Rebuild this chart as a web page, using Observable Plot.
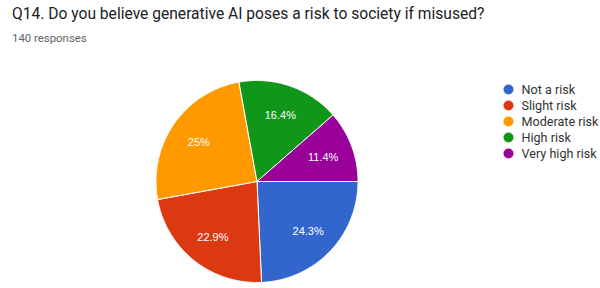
<!DOCTYPE html>
<html><head><meta charset="utf-8">
<script src="https://cdn.jsdelivr.net/npm/d3@7"></script>
<script src="https://cdn.jsdelivr.net/npm/@observablehq/plot@0.6"></script>
<style>
html,body{margin:0;padding:0;background:#fff;width:600px;height:288px;overflow:hidden;}
#wrap{position:relative;width:600px;height:288px;}
#title{position:absolute;left:12px;top:5px;font:15.6px Roboto, sans-serif;line-height:18px;color:#202124;white-space:nowrap;}
#sub{position:absolute;left:12px;top:32px;font:11.4px Roboto, sans-serif;line-height:13px;color:#5f6368;white-space:nowrap;}
#chart{position:absolute;left:0;top:45px;}
#legend{position:absolute;left:500px;top:0;}
</style></head><body>
<div id="wrap">
  <div id="title">Q14. Do you believe generative AI poses a risk to society if misused?</div>
  <div id="sub">140 responses</div>
  <div id="chart"></div>
  <div id="legend"></div>
</div>
<script>
const categories = ["Not a risk", "Slight risk", "Moderate risk", "High risk", "Very high risk"];
const counts = [34, 32, 35, 23, 16];
const percentLabels = ["24.3%", "22.9%", "25%", "16.4%", "11.4%"];
const colors = ["#3366cc", "#dc3912", "#ff9900", "#109618", "#990099"];

const rows = categories.map((c, i) => ({cat: c, count: counts[i], label: percentLabels[i]}));
const arcs = d3.pie().value(d => d.count).sort(null)
  .startAngle(Math.PI / 2).endAngle(Math.PI / 2 + 2 * Math.PI)(rows);

const pts = [];
for (const a of arcs) {
  const n = Math.max(2, Math.ceil((a.endAngle - a.startAngle) / (Math.PI / 360)));
  pts.push({cat: a.data.cat, x: 0, y: 0});
  for (let k = 0; k <= n; k++) {
    const t = a.startAngle + (a.endAngle - a.startAngle) * k / n;
    pts.push({cat: a.data.cat, x: Math.sin(t), y: Math.cos(t)});
  }
  pts.push({cat: a.data.cat, x: 0, y: 0});
}
const labels = arcs.map(a => {
  const m = (a.startAngle + a.endAngle) / 2;
  return {x: 0.7 * Math.sin(m), y: 0.7 * Math.cos(m), text: a.data.label};
});

const colorScale = {domain: categories, range: colors};

const chart = Plot.plot({
  width: 600, height: 243,
  margin: 0,
  style: {background: "transparent"},
  x: {domain: [-1, 1], range: [155.5, 357.5], axis: null},
  y: {domain: [-1, 1], range: [237, 35], axis: null},
  color: colorScale,
  marks: [
    Plot.line(pts, {x: "x", y: "y", z: "cat", fill: "cat", stroke: "white", strokeWidth: 1, strokeLinejoin: "round"}),
    Plot.text(labels, {x: "x", y: "y", text: "text", fill: "white", fontSize: 11, dy: 1, fontFamily: "Liberation Sans, Arial, sans-serif"})
  ]
});
document.getElementById("chart").appendChild(chart);

const legend = Plot.plot({
  width: 100, height: 170,
  margin: 0,
  style: {background: "transparent", overflow: "visible"},
  x: {domain: [0, 1], range: [8, 21], axis: null},
  y: {type: "point", padding: 0, domain: categories, range: [88, 153], axis: null},
  color: colorScale,
  marks: [
    Plot.dot(categories, {x: () => 0, y: d => d, fill: d => d, r: 5}),
    Plot.text(categories, {x: () => 1, y: d => d, text: d => d, textAnchor: "start", fill: "#333", fontSize: 12.6, fontFamily: "Roboto, sans-serif"})
  ]
});
document.getElementById("legend").appendChild(legend);
</script>
</body></html>
